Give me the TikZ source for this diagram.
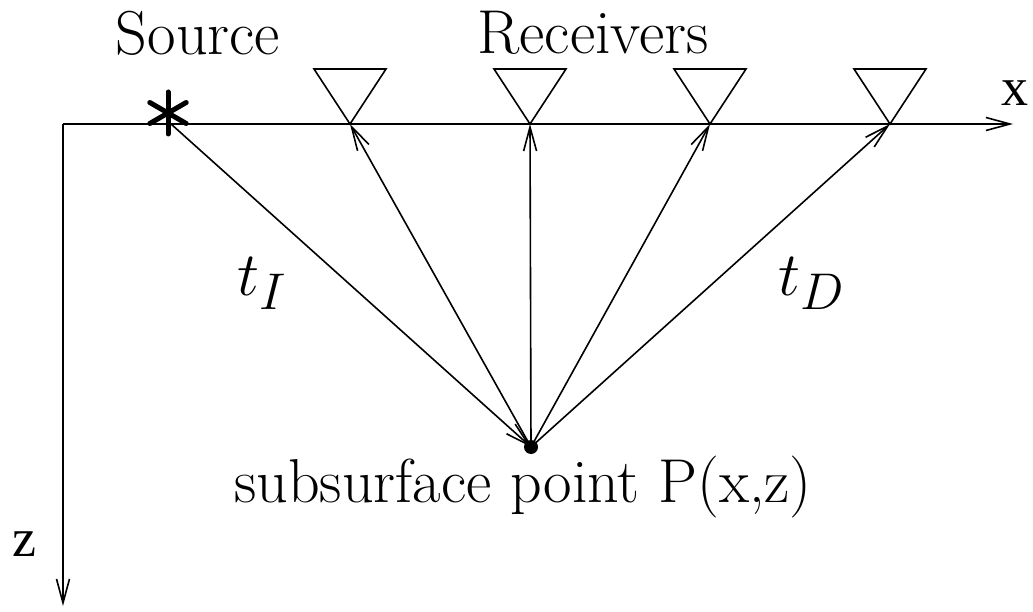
\documentclass[tikz,border=0pt]{standalone}
\usepackage{fontspec}
\newfontfamily\axisfont{Liberation Serif}
\usetikzlibrary{arrows.meta}
\begin{document}
\begin{tikzpicture}[x=1pt,y=-1pt,
  line width=1.6pt,
  barb/.style={-{Straight Barb[length=24pt,width=13pt,line width=1.6pt]}},
  big/.style={font=\fontsize{62}{68}\selectfont},
  axislbl/.style={font=\axisfont\fontsize{54}{60}\selectfont,inner sep=0pt},
  bigmath/.style={font=\fontsize{24.88}{30}\selectfont,scale=2.49},
  rec/.style={line width=1.6pt}]
\useasboundingbox (0,0) rectangle (1033,612);
% axes
\coordinate (O) at (63,124);
\coordinate (X) at (1013,124);
\coordinate (Z) at (63,606);
\draw[barb] (O) -- (X);
\draw[barb] (O) -- (Z);
% source asterisk
\coordinate (S) at (168,113);
\foreach \a in {90,210,330} {
  \draw[line width=5pt,line cap=round] (S) -- ++(\a:21);
  \draw[line width=5pt,line cap=round] (S) -- ++(\a+180:21);
}
\coordinate (S0) at (171,124);
% receivers
\foreach \n/\xx in {1/350,2/530,3/710,4/890} {
  \coordinate (R\n) at (\xx,124);
  \draw[rec] (R\n) -- (\xx-36,69) -- (\xx+36,69) -- cycle;
}
% point P
\node[circle,fill=black,inner sep=0pt,minimum size=14pt] (P) at (531,447) {};
% rays
\draw[barb] (S0) -- (P.center);
\foreach \n in {1,2,3,4} \draw[barb] (P.center) -- (R\n);
% labels
\node[big] (src) at (198,33) {Source};
\node[big] (rcv) at (593,33) {Receivers};
\node[axislbl] (xl) at (1015,93) {x};
\node[axislbl] (zl) at (24,544) {z};
\node[bigmath] (tI) at (262,283) {$t_I$};
\node[bigmath] (tD) at (812,283) {$t_D$};
\node[big] (pl) at (523,487) {subsurface point P(x,z)};
\end{tikzpicture}
\end{document}
